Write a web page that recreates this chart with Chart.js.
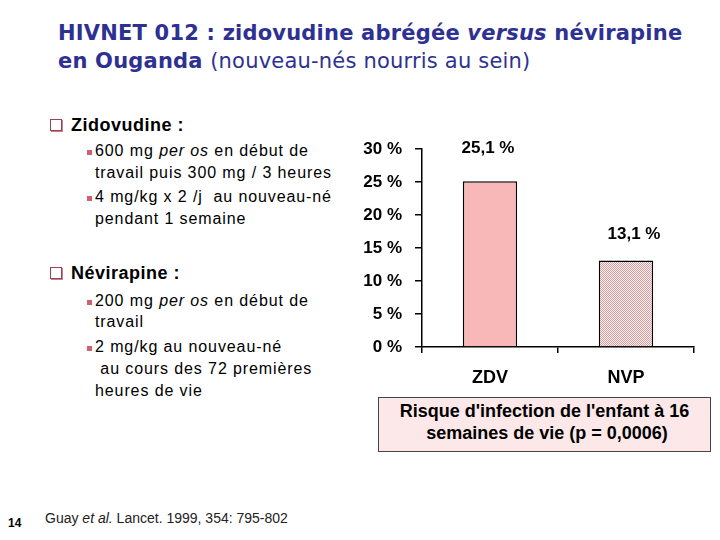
<!DOCTYPE html>
<html lang="fr">
<head>
<meta charset="utf-8">
<script src="https://cdn.jsdelivr.net/npm/chart.js@4"></script>
<style>
  body { margin: 0; width: 720px; height: 540px; background: #fff; position: relative; overflow: hidden; font-family: "Liberation Sans", Arial, sans-serif; }
  .abs { position: absolute; white-space: nowrap; }
  .title { left: 58px; color: #2E3192; font-family: "DejaVu Sans", sans-serif; font-size: 21px; font-weight: bold; letter-spacing: 0.2px; }
  .title .n { font-weight: normal; }
  .head { font-size: 18px; font-weight: bold; letter-spacing: 0.5px; color: #000; }
  .head .box { display: inline-block; width: 10px; height: 10px; border: 1.5px solid #A04050; margin-right: 9px; box-shadow: 1px 1px 0 #c08090; }
  .sub { font-size: 16px; letter-spacing: 0.9px; color: #000; }
  .dot { position: absolute; width: 5px; height: 5px; background: #D06070; }
  #chartBox { position: absolute; left: 340px; top: 120px; width: 375px; height: 280px; }
  .caption { position: absolute; left: 378px; top: 397px; width: 333px; height: 55px; background: #FCE8E8; border: 1px solid #444; font-weight: bold; font-size: 18px; text-align: center; line-height: 22px; padding-top: 2px; box-sizing: border-box; }
</style>
</head>
<body>
<div class="abs title" style="top:21px">HIVNET 012 : zidovudine abrégée <i>versus</i> névirapine</div>
<div class="abs title" style="top:49px">en Ouganda <span class="n">(nouveau-nés nourris au sein)</span></div>

<div class="abs head" style="left:50px; top:115px"><span class="box"></span>Zidovudine :</div>
<div class="dot" style="left:87px; top:150px"></div>
<div class="abs sub" style="left:95px; top:142px">600 mg <i>per os</i> en début de</div>
<div class="abs sub" style="left:95px; top:164px">travail puis 300 mg / 3 heures</div>
<div class="dot" style="left:87px; top:196px"></div>
<div class="abs sub" style="left:95px; top:188px">4 mg/kg x 2 /j&nbsp; au nouveau-né</div>
<div class="abs sub" style="left:95px; top:210px">pendant 1 semaine</div>

<div class="abs head" style="left:50px; top:263px"><span class="box"></span>Névirapine :</div>
<div class="dot" style="left:87px; top:300px"></div>
<div class="abs sub" style="left:95px; top:292px">200 mg <i>per os</i> en début de</div>
<div class="abs sub" style="left:95px; top:313px">travail</div>
<div class="dot" style="left:87px; top:346px"></div>
<div class="abs sub" style="left:95px; top:338px">2 mg/kg au nouveau-né</div>
<div class="abs sub" style="left:95px; top:360px">&nbsp;au cours des 72 premières</div>
<div class="abs sub" style="left:95px; top:382px">heures de vie</div>

<div id="chartBox"><canvas id="riskChart"></canvas></div>
<div class="caption">Risque d'infection de l'enfant à 16<br>&nbsp;semaines de vie (p = 0,0006)</div>

<div class="abs" style="left:8px; top:516px; font-size:12px; font-weight:bold">14</div>
<div class="abs" style="left:45px; top:510px; font-size:14px; color:#222">Guay <i>et al.</i> Lancet. 1999, 354: 795-802</div>

<script>
const categories = ["ZDV", "NVP"];
const infectionRisk = [25.1, 13.1];
const yMin = 0;
const yMax = 30;
const yStep = 5;

// NVP bar is drawn with a fine pink/white checker pattern
function checker() {
  const c = document.createElement("canvas");
  c.width = 2;
  c.height = 2;
  const g = c.getContext("2d");
  g.fillStyle = "#FFF4F4";
  g.fillRect(0, 0, 2, 2);
  g.fillStyle = "#D89A9A";
  g.fillRect(0, 0, 1, 1);
  g.fillRect(1, 1, 1, 1);
  return g.createPattern(c, "repeat");
}

const fmt = (v) => v.toFixed(1).replace(".", ",") + " %";

const valueLabels = {
  id: "valueLabels",
  afterDatasetsDraw(chart) {
    const { ctx } = chart;
    const meta = chart.getDatasetMeta(0);
    const nudge = [[-2, 33], [8, 26]];
    ctx.save();
    ctx.font = "bold 17px 'Liberation Sans', Arial, sans-serif";
    ctx.fillStyle = "#000";
    ctx.textAlign = "center";
    ctx.textBaseline = "middle";
    meta.data.forEach((bar, i) => {
      ctx.fillText(fmt(infectionRisk[i]), bar.x + nudge[i][0], bar.y - nudge[i][1]);
    });
    ctx.restore();
  },
};

new Chart(document.getElementById("riskChart"), {
  type: "bar",
  data: {
    labels: categories,
    datasets: [
      {
        data: infectionRisk,
        backgroundColor: ["#F8B8B8", checker()],
        borderColor: "#000",
        borderWidth: 1.5,
        borderSkipped: "bottom",
        categoryPercentage: 1,
        barPercentage: 0.4,
      },
    ],
  },
  options: {
    responsive: true,
    maintainAspectRatio: false,
    animation: false,
    layout: { padding: { top: 29, right: 21, left: 0, bottom: 0 } },
    plugins: { legend: { display: false }, tooltip: { enabled: false } },
    scales: {
      x: {
        afterFit: (s) => { s.height = 53; },
        border: { display: true, color: "#000", width: 1.5 },
        grid: { drawOnChartArea: false, drawTicks: true, tickLength: 6, color: "#000", lineWidth: 1.5 },
        ticks: { color: "#000", padding: 14, font: { family: "'Liberation Sans', Arial", size: 18, weight: "bold" } },
      },
      y: {
        min: yMin,
        max: yMax,
        afterFit: (s) => { s.width = 82; },
        border: { display: true, color: "#000", width: 1.5 },
        grid: { drawOnChartArea: false, drawTicks: true, tickLength: 7, color: "#000", lineWidth: 1.5 },
        ticks: {
          stepSize: yStep,
          color: "#000",
          padding: 13,
          font: { family: "'Liberation Sans', Arial", size: 17, weight: "bold" },
          callback: (v) => v + " %",
        },
      },
    },
  },
  plugins: [valueLabels],
});
</script>
</body>
</html>
